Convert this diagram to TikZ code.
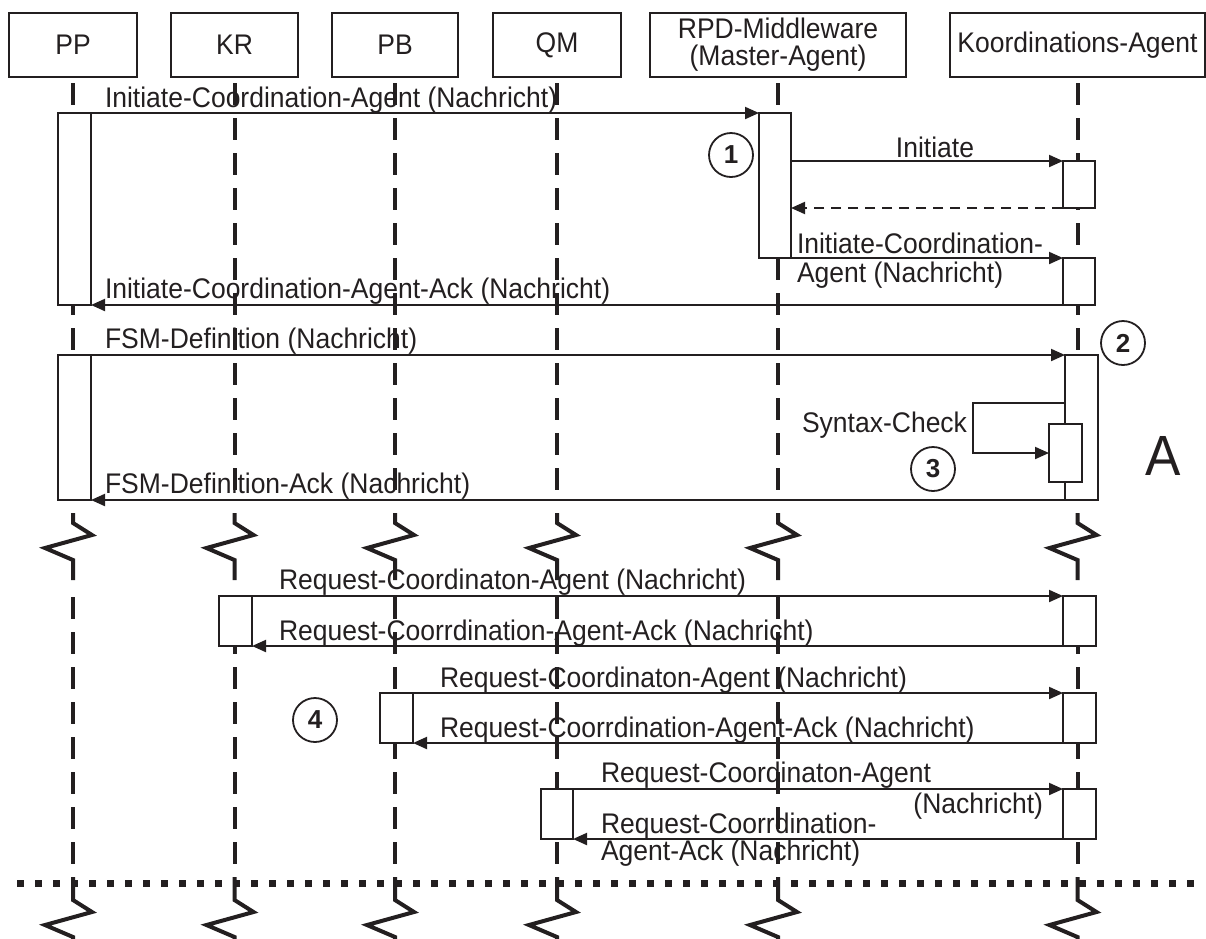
\documentclass[tikz,border=0pt]{standalone}
\usepackage{fontspec}
\usepackage{graphicx}
\setmainfont{Liberation Sans}
\usetikzlibrary{arrows.meta,calc}
\definecolor{ink}{RGB}{35,31,32}
% slightly taller lettering
\newcommand{\tall}[1]{\scalebox{1}[1.07]{#1}}

\begin{document}
\begin{tikzpicture}[x=1pt,y=-1pt,
  every node/.style={inner sep=0pt, outer sep=0pt, text=ink},
  lbl/.style={font=\fontsize{26.5}{27}\selectfont},
  head/.style={draw=ink, line width=2.4pt, fill=white, minimum height=64pt, lbl, align=center},
  act/.style={draw=ink, line width=1.8pt, fill=white, minimum width=33pt},
  msg/.style={draw=ink, line width=2pt, -{Triangle[length=14pt,width=12pt]}},
  reply/.style={msg, dash pattern=on 10pt off 7pt},
  life/.style={draw=ink, line width=4pt, dash pattern=on 22pt off 13pt},
  zig/.style={draw=ink, line width=4pt},
  num/.style={circle, draw=ink, line width=1.8pt, minimum size=44pt,
              font=\fontsize{26}{30}\selectfont\bfseries},
]
\useasboundingbox (0,0) rectangle (1206,938);

% participants
\node[head, minimum width=128pt] (pp)  at (73,45)    {\tall{PP}};
\node[head, minimum width=127pt] (kr)  at (234.5,45) {\tall{KR}};
\node[head, minimum width=126pt] (pb)  at (395,45)   {\tall{PB}};
\node[head, minimum width=128pt] (qm)  at (557,45)   {\tall{QM}};
\node[head, minimum width=256pt] (rpd) at (778,45)   {\tall{RPD-Middleware}\\\tall{(Master-Agent)}};
\node[head, minimum width=255pt] (ko)  at (1077.5,45) {\tall{Koordinations-Agent}};

% message labels
\node[lbl, anchor=base west] (l1)  at (105,107) {\tall{Initiate-Coordination-Agent (Nachricht)}};
\node[lbl, anchor=base]      (l2)  at (935,157) {\tall{Initiate}};
\node[lbl, anchor=base west] (l3a) at (797,253) {\tall{Initiate-Coordination-}};
\node[lbl, anchor=base west] (l3b) at (797,282) {\tall{Agent (Nachricht)}};
\node[lbl, anchor=base west] (l4)  at (105,298) {\tall{Initiate-Coordination-Agent-Ack (Nachricht)}};
\node[lbl, anchor=base west] (l5)  at (105,348) {\tall{FSM-Definition (Nachricht)}};
\node[lbl, anchor=base east] (l6)  at (967,432) {\tall{Syntax-Check}};
\node[lbl, anchor=base west] (l7)  at (105,493) {\tall{FSM-Definition-Ack (Nachricht)}};
\node[lbl, anchor=base west] (l8)  at (279,589) {\tall{Request-Coordinaton-Agent (Nachricht)}};
\node[lbl, anchor=base west] (l9)  at (279,640) {\tall{Request-Coorrdination-Agent-Ack (Nachricht)}};
\node[lbl, anchor=base west] (l10) at (440,687) {\tall{Request-Coordinaton-Agent (Nachricht)}};
\node[lbl, anchor=base west] (l11) at (440,737) {\tall{Request-Coorrdination-Agent-Ack (Nachricht)}};
\node[lbl, anchor=base west] (l12a) at (601,782) {\tall{Request-Coordinaton-Agent}};
\node[lbl, anchor=base east] (l12b) at (1043,813) {\tall{(Nachricht)}};
\node[lbl, anchor=base west] (l13a) at (601,833) {\tall{Request-Coorrdination-}};
\node[lbl, anchor=base west] (l13b) at (601,860) {\tall{Agent-Ack (Nachricht)}};

% activation bars (placed first so the messages can refer to them)
\path
  (74.5,209)   node[act, minimum height=192pt] (pp1) {}
  (74.5,427.5) node[act, minimum height=145pt] (pp2) {}
  (775,185.5)  node[act, minimum width=32pt, minimum height=145pt] (rpd1) {}
  (1079,184.5) node[act, minimum width=32pt, minimum height=47pt] (k1) {}
  (1079,281.5) node[act, minimum width=32pt, minimum height=47pt] (k2) {}
  (1081.5,427.5) node[act, minimum height=145pt] (k3) {}
  (1065.5,453) node[act, minimum height=58pt] (k3n) {}
  (235.5,621)  node[act, minimum height=50pt] (kr1) {}
  (1079.5,621) node[act, minimum height=50pt] (k4) {}
  (396.5,718)  node[act, minimum height=50pt] (pb1) {}
  (1079.5,718) node[act, minimum height=50pt] (k5) {}
  (557,814)    node[act, minimum width=32pt, minimum height=50pt] (qm1) {}
  (1079.5,814) node[act, minimum height=50pt] (k6) {};

% messages
\draw[msg] (pp1.north east) -- (rpd1.north west);
\draw[msg] (k1.north west -| rpd1.east) -- (k1.north west);
\draw[reply] (k1.south) -- (k1.south -| rpd1.east);
\draw[msg] (rpd1.south east) -- (k2.north west);
\draw[msg] (k2.south west) -- (pp1.south east);
\draw[msg] (pp2.north east) -- (k3.north west);
\coordinate (sc) at (973,403);
\draw[msg] (k3.west |- sc) -- (sc) -- (sc |- k3n.west) -- (k3n.west);
\draw[msg] (k3.south west) -- (pp2.south east);
\draw[msg] (kr1.north east) -- (k4.north west);
\draw[msg] (k4.south west) -- (kr1.south east);
\draw[msg] (pb1.north east) -- (k5.north west);
\draw[msg] (k5.south west) -- (pb1.south east);
\draw[msg] (qm1.north east) -- (k6.north west);
\draw[msg] (k6.south west) -- (qm1.south east);

% separator
\draw[ink, line width=7pt, dash pattern=on 7pt off 11pt] (17,883) -- (1200,883);

% lifelines with breaks
\foreach \n in {pp,kr,pb,qm,rpd,ko} {
  \draw[life] (\n.south |- 0,83) -- (\n.south |- 0,490);
  \draw[zig] (\n.south |- 0,513) -- ++(0,10) -- ++(19,12) -- ++(-47,13) -- ++(28,12) -- ++(0,20);
  \draw[life] (\n.south |- 0,597) -- (\n.south |- 0,866);
  \draw[zig] (\n.south |- 0,877) -- ++(0,23) -- ++(19,12) -- ++(-47,13) -- ++(28,12) -- ++(0,10);
}

% activation bars drawn over the lifelines
\foreach \b in {pp1,pp2,rpd1,k1,k2,k3,k3n,kr1,k4,pb1,k5,qm1,k6} {
  \draw[draw=ink, line width=1.8pt, fill=white] (\b.north west) rectangle (\b.south east);
}

% markers
\node[num] (c1) at (731,155) {1};
\node[num] (c2) at (1123,343) {2};
\node[num] (c3) at (933,469) {3};
\node[num] (c4) at (315,720) {4};
\node[font=\fontsize{53}{60}\selectfont] (la) at (1163,456) {\tall{A}};
\end{tikzpicture}
\end{document}
